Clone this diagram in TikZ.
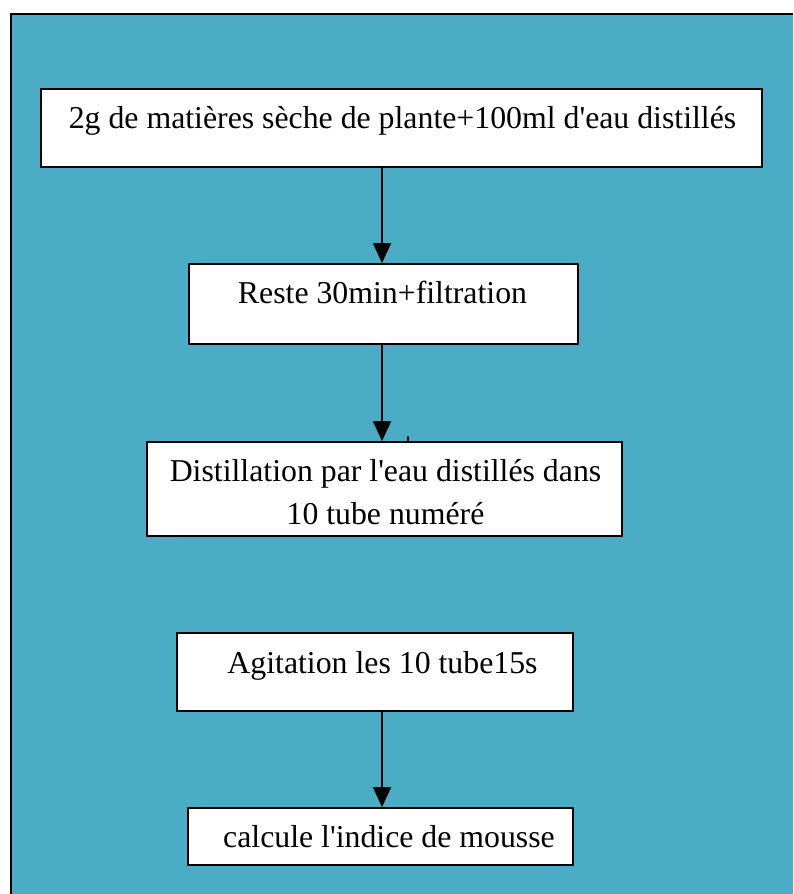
\documentclass[tikz,border=0pt]{standalone}
\usepackage{fontspec}
\setmainfont{Liberation Serif}[Ligatures=TeXOff]
\usetikzlibrary{arrows.meta}
\definecolor{bgteal}{HTML}{4BACC6}
\tikzset{
  px/.style={x=1pt,y=-1pt},
  stepbox/.style={draw=black,line width=1.8pt,fill=white,inner sep=0pt},
  steptext/.style={inner sep=0pt,anchor=base,font=\fontsize{31.8}{42}\selectfont},
  flowarrow/.style={line width=2pt,-{Triangle[length=20pt,width=18pt]}}
}
\begin{document}
\begin{tikzpicture}[px]
\useasboundingbox (0,0) rectangle (793,894);
\fill[bgteal] (11,14) rectangle (793,894);
\draw[line width=2pt] (11,894) -- (11,14) -- (793,14);
% boxes
\node[stepbox,minimum width=721pt,minimum height=78pt] (b1) at (401.5,128) {};
\node[stepbox,minimum width=389pt,minimum height=80pt] (b2) at (383.5,304) {};
\node[stepbox,minimum width=475pt,minimum height=94pt] (b3) at (384.5,489) {};
\node[stepbox,minimum width=396pt,minimum height=78pt] (b4) at (375,672) {};
\node[stepbox,minimum width=385pt,minimum height=57pt] (b5) at (380.5,836.5) {};
% texts
\node[steptext] (x1) at (402.5,128) {2g de matières sèche de plante+100ml d'eau distillés};
\node[steptext] (x2) at (382.5,303) {Reste 30min+filtration};
\node[steptext] (x3a) at (385.5,481) {Distillation par l'eau distillés dans};
\node[steptext] (x3b) at (385.5,524) {10 tube numéré};
\node[steptext] (x4) at (382.5,673) {Agitation les 10 tube15s};
\node[steptext] (x5) at (389,847) {calcule l'indice de mousse};
% arrows
\coordinate (t1) at (382,0);
\draw[flowarrow] (b1.south -| t1) -- (b2.north -| t1);
\draw[flowarrow] (b2.south -| t1) -- (b3.north -| t1);
\draw[flowarrow] (b4.south -| t1) -- (b5.north -| t1);
\coordinate (tk) at (408,436);
\draw[line width=2pt] (tk) -- (tk |- b3.north);
\end{tikzpicture}
\end{document}
